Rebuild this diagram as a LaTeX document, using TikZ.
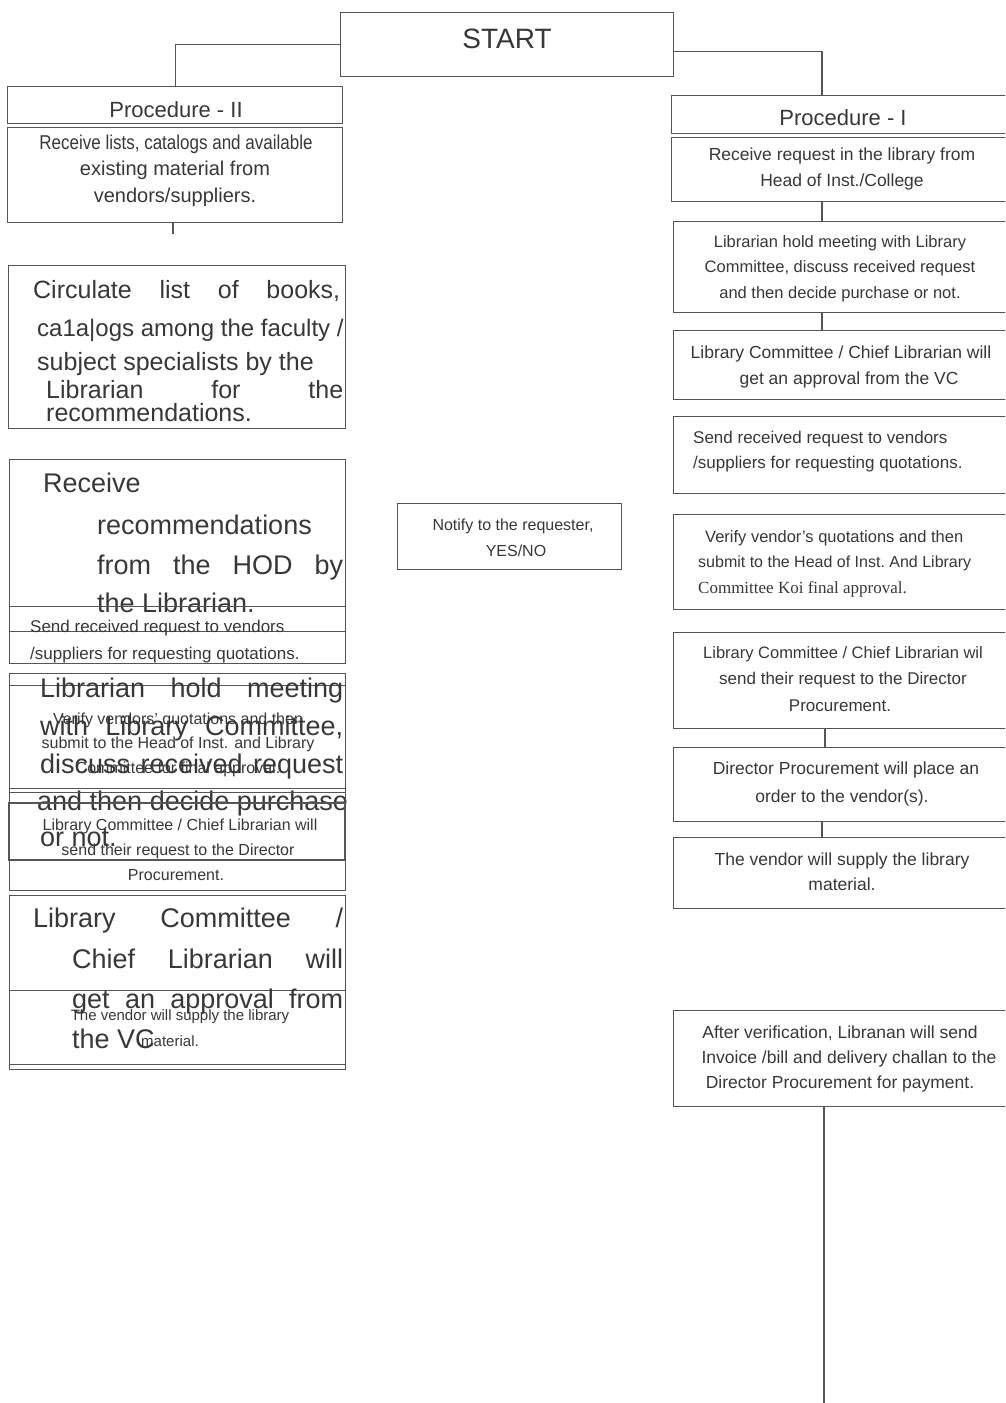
\documentclass[tikz,border=0pt]{standalone}
\usepackage{fontspec}
\setmainfont{Liberation Sans}
\newfontfamily\serifface{Liberation Serif}
\usepackage{graphicx}
\definecolor{linec}{HTML}{555555}
\definecolor{txtc}{HTML}{383838}
\newcommand\myfs[1]{\fontsize{#1}{#1}\selectfont}
\tikzset{
  box/.style={draw=linec, line width=1.4pt, rectangle, inner sep=0pt, anchor=north west},
  conn/.style={draw=linec, line width=1.4pt},
  tx/.style={inner sep=0pt, text=txtc, anchor=mid, yshift=-4pt},
  txw/.style={inner sep=0pt, text=txtc, anchor=mid west, yshift=-4pt},
  bigf/.style={font=\myfs{27}},
  circf/.style={font=\myfs{25}},
  smallf/.style={font=\myfs{16}},
  rightf/.style={font=\myfs{17.5}},
}
\begin{document}
\begin{tikzpicture}[x=1pt,y=-1pt]
\useasboundingbox (0,0) rectangle (1005,1403);
\clip (0,0) rectangle (1005,1403);
\fill[white] (0,0) rectangle (1005,1403);

% ---------- START ----------
\node[box, minimum width=333pt, minimum height=64pt] (start) at (340,12) {};
\node[tx, font=\myfs{28}] (starttxt) at (507,42) {START};

% ---------- Procedure II (left) ----------
\node[box, minimum width=335pt, minimum height=37pt] (p2h) at (7,86) {};
\node[box, minimum width=335pt, minimum height=95pt] (p2b) at (7,127) {};
\node[tx, font=\myfs{22}] (p2htxt) at (176,111) {Procedure - II};
\node[tx, font=\myfs{20}] (p2l1) at (176,143) {\scalebox{0.85}[1]{Receive lists, catalogs and available}};
\node[tx, font=\myfs{20}] (p2l2) at (175,169) {existing material from};
\node[tx, font=\myfs{20}] (p2l3) at (175,196) {vendors/suppliers.};
\coordinate (p2end) at (173,234);

% Circulate
\node[box, minimum width=337pt, minimum height=163pt] (circ) at (8,265) {};
\node[txw, circf] (c1) at (33,292) {\makebox[307pt][s]{Circulate\hfill list\hfill of\hfill books,}};
\node[txw, font=\myfs{24}] (c2) at (37,330) {ca1a|ogs among the faculty /};
\node[txw, circf] (c3) at (37,364) {subject specialists by the};
\node[txw, circf] (c4) at (46,392) {\makebox[297pt][s]{Librarian\hfill for\hfill the}};
\node[txw, circf] (c5) at (46,415) {recommendations.};

% Receive recommendations
\node[box, minimum width=336pt, minimum height=172pt] (recv) at (9,459) {};
\node[txw, bigf] (r1t) at (43,486) {Receive};
\node[txw, bigf] (r2t) at (97,528) {recommendations};
\node[txw, bigf] (r3t) at (97,568) {\makebox[246pt][s]{from\hfill the\hfill HOD\hfill by}};
\node[txw, bigf] (r4t) at (97,606) {the Librarian.};

% Send received request (left copy)
\node[box, minimum width=336pt, minimum height=57pt] (sendL) at (9,606) {};
\node[txw, font=\myfs{17}] (s1) at (30,626) {Send received request to vendors};
\node[txw, font=\myfs{17}] (s2) at (30,653) {/suppliers for requesting quotations.};

% Librarian hold meeting (left, big)
\node[box, minimum width=336pt, minimum height=115pt] (meetL) at (9,673) {};
\node[box, minimum width=336pt, minimum height=107pt] (verL) at (9,685) {};
\node[txw, bigf] (m1) at (40,691) {\makebox[303pt][s]{Librarian\hfill hold\hfill meeting}};
\node[txw, bigf] (m2) at (40,729) {\makebox[303pt][s]{with\hfill Library\hfill Committee,}};
\node[txw, bigf] (m3) at (40,767) {\makebox[303pt][s]{discuss\hfill received\hfill request}};
\node[txw, bigf] (m4) at (37,804) {and then decide purchase};
\node[txw, bigf] (m5) at (40,840) {or not.};

% Verify (left, small)
\node[tx, smallf] (v1) at (178,718) {Verify vendors' quotations and then};
\node[tx, smallf] (v2) at (178,742) {submit to the Head of Inst. and Library};
\node[tx, smallf] (v3) at (178,767) {Committee for final approval.};

% Send their request (left)
\node[box, minimum width=336pt, minimum height=98pt] (dirL) at (9,792) {};
\draw[conn] (9,803) rectangle (345,860);
\node[tx, smallf] (d1) at (180,824) {Library Committee / Chief Librarian will};
\node[tx, smallf] (d2) at (178,849) {send their request to the Director};
\node[tx, smallf] (d3) at (176,874) {Procurement.};

% Approval from VC (left, big)
\node[box, minimum width=336pt, minimum height=174pt] (vcL) at (9,895) {};
\node[box, minimum width=336pt, minimum height=74pt] (supL) at (9,990) {};
\node[txw, bigf] (a1) at (33,921) {\makebox[310pt][s]{Library\hfill Committee\hfill /}};
\node[txw, bigf] (a2) at (72,962) {\makebox[271pt][s]{Chief\hfill Librarian\hfill will}};
\node[txw, bigf] (a3) at (72,1002) {\makebox[271pt][s]{get\hfill an\hfill approval\hfill from}};
\node[txw, bigf] (a4) at (72,1042) {the VC};
\node[tx, font=\myfs{15}] (g1) at (180,1014) {The vendor will supply the library};
\node[tx, font=\myfs{15}] (g2) at (170,1040) {material.};

% ---------- Notify ----------
\node[box, minimum width=224pt, minimum height=66pt] (notify) at (397,503) {};
\node[tx, smallf] (n1) at (513,524) {Notify to the requester,};
\node[tx, smallf] (n2) at (516,550) {YES/NO};

% ---------- Procedure I (right) ----------
\coordinate (rx) at (822,0);
\node[box, minimum width=349pt, minimum height=38pt] (p1h) at (671,95) {};
\node[box, minimum width=349pt, minimum height=64pt] (p1b) at (671,137) {};
\node[tx, font=\myfs{22}] (p1htxt) at (843,119) {Procedure - I};
\node[tx, rightf] (p1l1) at (842,154) {Receive request in the library from};
\node[tx, rightf] (p1l2) at (842,180) {Head of Inst./College};

\node[box, minimum width=347pt, minimum height=91pt] (rb2) at (673,221) {};
\node[tx, font=\myfs{16.5}] (rb2a) at (840,241) {Librarian hold meeting with Library};
\node[tx, font=\myfs{16.5}] (rb2b) at (840,266) {Committee, discuss received request};
\node[tx, font=\myfs{16.5}] (rb2c) at (840,292) {and then decide purchase or not.};

\node[box, minimum width=347pt, minimum height=69pt] (rb3) at (673,330) {};
\node[tx, rightf] (rb3a) at (841,352) {Library Committee / Chief Librarian will};
\node[tx, rightf] (rb3b) at (849,378) {get an approval from the VC};

\node[box, minimum width=347pt, minimum height=77pt] (rb4) at (673,416) {};
\node[txw, font=\myfs{17}] (rb4a) at (693,437) {Send received request to vendors};
\node[txw, font=\myfs{17}] (rb4b) at (693,462) {/suppliers for requesting quotations.};

\node[box, minimum width=347pt, minimum height=95pt] (rb5) at (673,514) {};
\node[txw, font=\myfs{16.5}] (rb5a) at (705,536) {Verify vendor's quotations and then};
\node[txw, font=\myfs{16}] (rb5b) at (698,561) {submit to the Head of Inst.\ And Library};
\node[txw, font=\myfs{17}\serifface] (rb5c) at (698,587) {Committee Koi final approval.};

\node[box, minimum width=347pt, minimum height=96pt] (rb6) at (673,632) {};
\node[tx, font=\myfs{16.5}] (rb6a) at (843,652) {Library Committee / Chief Librarian wil};
\node[tx, font=\myfs{17}] (rb6b) at (843,678) {send their request to the Director};
\node[tx, font=\myfs{17}] (rb6c) at (840,705) {Procurement.};

\node[box, minimum width=347pt, minimum height=74pt] (rb7) at (673,747) {};
\node[tx, rightf] (rb7a) at (846,768) {Director Procurement will place an};
\node[tx, rightf] (rb7b) at (842,796) {order to the vendor(s).};

\node[box, minimum width=347pt, minimum height=71pt] (rb8) at (673,837) {};
\node[tx, rightf] (rb8a) at (842,859) {The vendor will supply the library};
\node[tx, rightf] (rb8b) at (842,884) {material.};

\node[box, minimum width=347pt, minimum height=96pt] (rb9) at (673,1010) {};
\node[tx, rightf] (rb9a) at (840,1032) {After verification, Libranan will send};
\node[tx, rightf] (rb9b) at (849,1057) {Invoice /bill and delivery challan to the};
\node[tx, rightf] (rb9c) at (840,1082) {Director Procurement for payment.};
\coordinate (bottomend) at (824,1403);

% ---------- connectors ----------
\draw[conn] (start.west) -| (p2h.north);
\draw[conn] ([yshift=-7pt]start.east) -| (p1h.north -| rx);
\draw[conn] (p2b.south -| p2end) -- (p2end);
\draw[conn] (p1b.south -| rx) -- (rb2.north -| rx);
\draw[conn] (rb2.south -| rx) -- (rb3.north -| rx);
\draw[conn] ([xshift=3pt]rb6.south -| rx) -- ([xshift=3pt]rb7.north -| rx);
\draw[conn] (rb7.south -| rx) -- (rb8.north -| rx);
\draw[conn] (rb9.south -| bottomend) -- (bottomend);
\end{tikzpicture}
\end{document}
